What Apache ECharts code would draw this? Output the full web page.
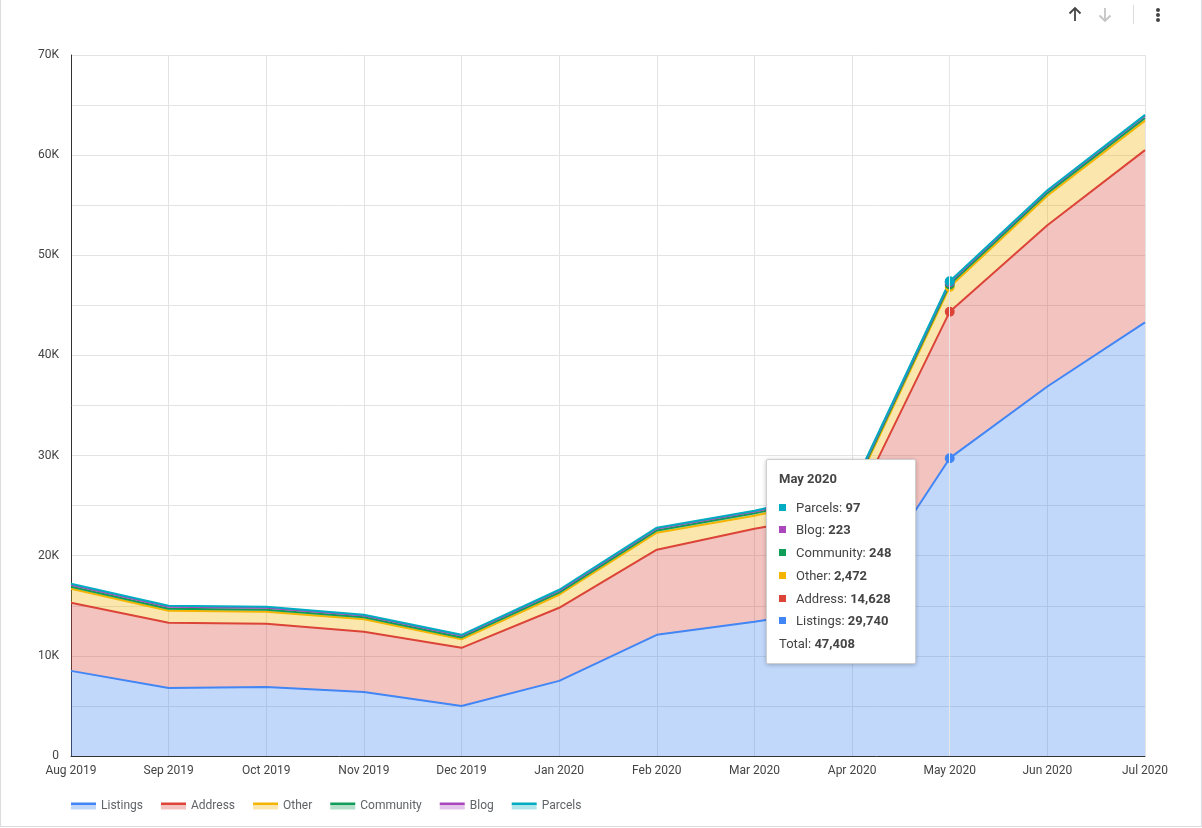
<!DOCTYPE html>
<html>
<head>
<meta charset="utf-8">
<script src="https://cdn.jsdelivr.net/npm/echarts@6/dist/echarts.min.js"></script>
<style>
html,body{margin:0;padding:0;background:#fff;}
#frame{position:absolute;left:0;top:0;width:1200px;height:826px;border:1px solid #dadce0;border-top:none;}
#chart{position:absolute;left:0;top:0;width:1202px;height:828px;}
</style>
</head>
<body>
<div id="frame"></div>
<div id="chart"></div>
<script>
const categories = ['Aug 2019','Sep 2019','Oct 2019','Nov 2019','Dec 2019','Jan 2020','Feb 2020','Mar 2020','Apr 2020','May 2020','Jun 2020','Jul 2020'];
const listings  = [8500, 6800, 6900, 6400, 5000, 7500, 12100, 13400, 14900, 29740, 36900, 43300];
const address   = [6800, 6500, 6300, 6000, 5800, 7300, 8500, 9300, 9500, 14628, 16100, 17200];
const other     = [1400, 1200, 1200, 1250, 850, 1300, 1700, 1300, 1760, 2472, 2950, 2950];
const community = [200, 200, 210, 200, 190, 210, 220, 230, 240, 248, 260, 260];
const blog      = [200, 200, 200, 170, 180, 200, 200, 190, 210, 223, 210, 220];
const parcels   = [100, 100, 90, 80, 80, 90, 80, 80, 90, 97, 80, 90];
const yTicks = [0, 10000, 20000, 30000, 40000, 50000, 60000, 70000];
const yTickLabels = ['0','10K','20K','30K','40K','50K','60K','70K'];

const seriesDefs = [
  {name:'Listings', data:listings, color:'#4285F4', light:'#c3d7f9'},
  {name:'Address', data:address, color:'#DB4437', light:'#f3c4c1'},
  {name:'Other', data:other, color:'#F4B400', light:'#fbe6b0'},
  {name:'Community', data:community, color:'#0F9D58', light:'#b5dfca'},
  {name:'Blog', data:blog, color:'#AB47BC', light:'#e4c6ea'},
  {name:'Parcels', data:parcels, color:'#00ACC1', light:'#b0e5ec'}
];

const chart = echarts.init(document.getElementById('chart'));
const font = 'Roboto, "Noto Sans", sans-serif';

const option = {
  animation: false,
  textStyle: {fontFamily: font},
  grid: {left: 71, right: 57, top: 55, bottom: 72, containLabel: false},
  legend: {
    left: 71, top: 800, padding: 0, itemWidth: 25, itemHeight: 7, itemGap: 18,
    icon: 'rect',
    textStyle: {color: '#5f6368', fontSize: 12, fontFamily: font},
    data: seriesDefs.map(s => ({
      name: s.name,
      itemStyle: {color: new echarts.graphic.LinearGradient(0,0,0,1,[
        {offset:0,color:s.color},{offset:0.42,color:s.color},{offset:0.42,color:s.light},{offset:1,color:s.light}])}
    }))
  },
  tooltip: {
    trigger: 'axis',
    alwaysShowContent: true,
    backgroundColor: '#fff',
    borderColor: '#cfcfcf',
    borderWidth: 1,
    padding: [8, 12, 7, 12],
    extraCssText: 'box-shadow:0 1px 4px rgba(0,0,0,0.25);border-radius:2px;',
    axisPointer: {type: 'line', lineStyle: {color: '#e6e6e6', width: 1, type: 'solid'}},
    position: function (point, params, dom, rect, size) {
      return [point[0] - size.contentSize[0] - 34, point[1] + 1];
    },
    formatter: function (params) {
      let total = 0;
      params.forEach(p => total += p.value);
      let html = '<div style="font-family:Roboto,sans-serif;color:#444;font-size:13px;line-height:22.7px;width:124px;">';
      html += '<div style="font-weight:bold;margin-bottom:6px;">' + params[0].axisValue + '</div>';
      params.slice().reverse().forEach(p => {
        html += '<div><span style="display:inline-block;width:7px;height:7px;background:' + p.color + ';margin-right:10px;vertical-align:1px;"></span>' +
          p.seriesName + ': <b>' + p.value.toLocaleString('en-US') + '</b></div>';
      });
      html += '<div>Total: <b>' + total.toLocaleString('en-US') + '</b></div></div>';
      return html;
    }
  },
  xAxis: {
    type: 'category',
    data: categories,
    boundaryGap: false,
    axisLine: {lineStyle: {color: '#333', width: 1}},
    axisTick: {show: false},
    axisLabel: {color: '#444', fontSize: 12, margin: 9, fontFamily: font},
    splitLine: {show: true, lineStyle: {color: '#e3e3e3'}}
  },
  yAxis: {
    type: 'value',
    min: 0, max: 70000, interval: 5000,
    axisLine: {show: true, lineStyle: {color: '#333', width: 1}},
    axisTick: {show: false},
    axisLabel: {
      color: '#444', fontSize: 12, margin: 12, fontFamily: font,
      formatter: function (v) {
        const i = yTicks.indexOf(v);
        return i >= 0 ? yTickLabels[i] : '';
      }
    },
    splitLine: {lineStyle: {color: '#e3e3e3'}}
  },
  series: seriesDefs.map(s => ({
    name: s.name,
    type: 'line',
    stack: 'total',
    data: s.data,
    color: s.color,
    showSymbol: false,
    symbol: 'circle',
    symbolSize: 9,
    lineStyle: {width: 2, color: s.color},
    areaStyle: {color: s.color, opacity: 0.32},
    emphasis: {disabled: true}
  })),
  graphic: [
    {type: 'polyline', shape: {points: [[1075, 21], [1075, 8]]}, style: {stroke: '#444', lineWidth: 1.8, fill: null}},
    {type: 'polyline', shape: {points: [[1069.5, 13.5], [1075, 8], [1080.5, 13.5]]}, style: {stroke: '#444', lineWidth: 1.8, fill: null}},
    {type: 'polyline', shape: {points: [[1105, 8], [1105, 21]]}, style: {stroke: '#c4c4c4', lineWidth: 1.8, fill: null}},
    {type: 'polyline', shape: {points: [[1099.5, 15.5], [1105, 21], [1110.5, 15.5]]}, style: {stroke: '#c4c4c4', lineWidth: 1.8, fill: null}},
    {type: 'rect', left: 1133, top: 5, shape: {width: 1, height: 19}, style: {fill: '#dcdcdc'}},
    {type: 'circle', left: 1156, top: 8, shape: {r: 2}, style: {fill: '#444'}},
    {type: 'circle', left: 1156, top: 13, shape: {r: 2}, style: {fill: '#444'}},
    {type: 'circle', left: 1156, top: 18, shape: {r: 2}, style: {fill: '#444'}}
  ]
};
chart.setOption(option);
chart.dispatchAction({type: 'showTip', seriesIndex: 0, dataIndex: 9});
</script>
</body>
</html>
